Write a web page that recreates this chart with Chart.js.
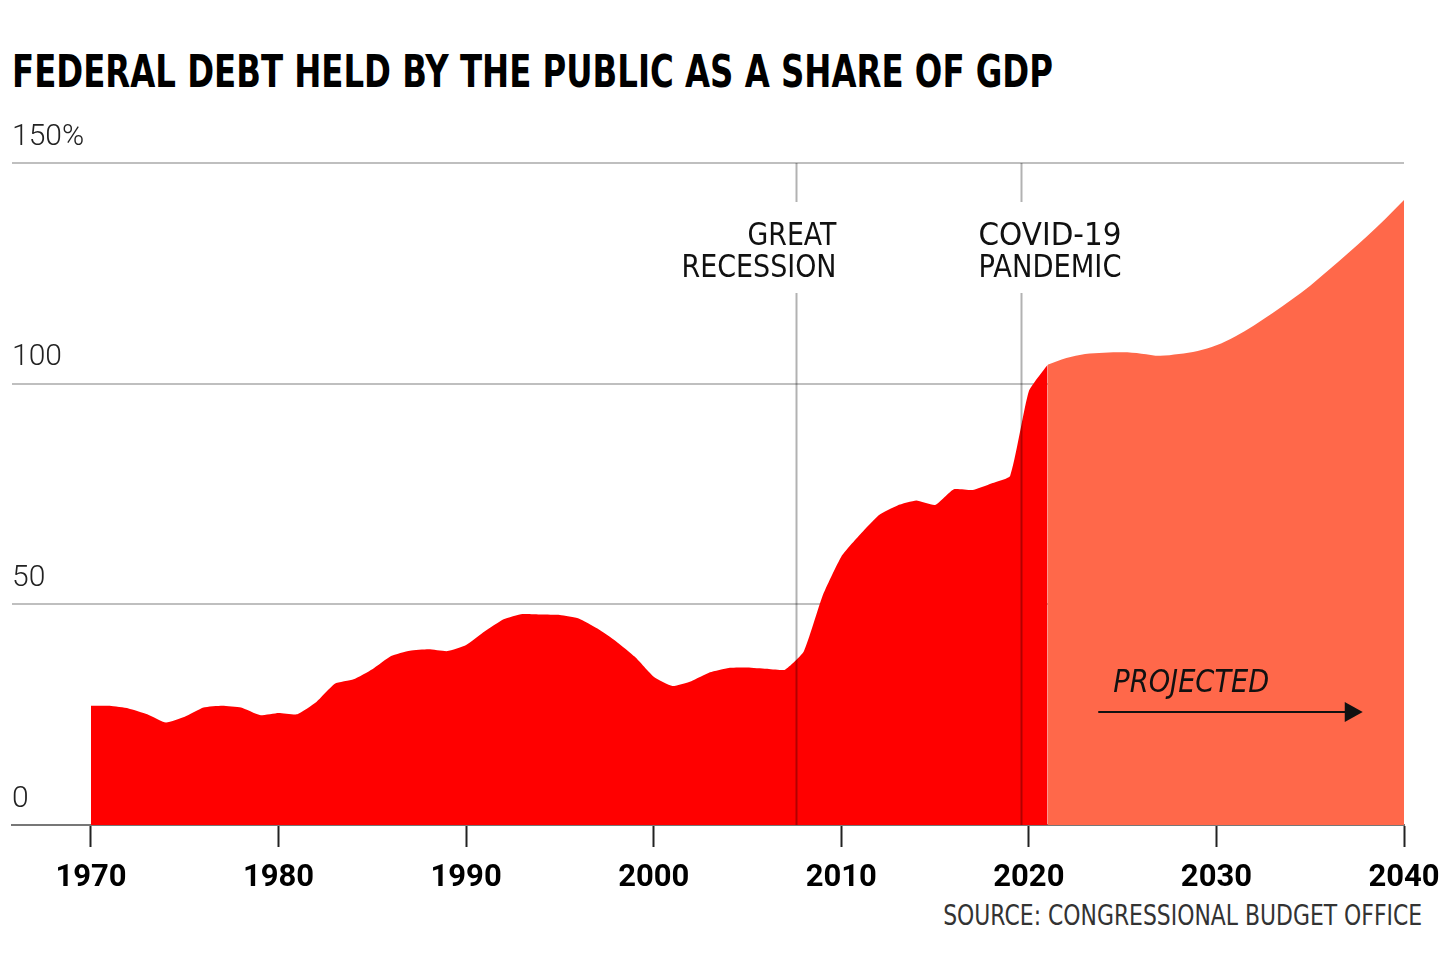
<!DOCTYPE html>
<html>
<head>
<meta charset="utf-8">
<script src="https://cdn.jsdelivr.net/npm/chart.js@4/dist/chart.umd.min.js"></script>
<style>
  body { margin: 0; background: #fff; width: 1440px; height: 968px; overflow: hidden; position: relative; }
  .cond { font-family: "DejaVu Sans", sans-serif; }
  #title { position: absolute; left: 12px; top: 46px; margin: 0; font-size: 44px; font-weight: bold; color: #000; white-space: nowrap; transform-origin: left top; }
  #source { position: absolute; right: 18px; top: 899px; font-size: 28px; color: #333; white-space: nowrap; }
  #wrap { position: absolute; left: 0; top: 0; width: 1440px; height: 968px; }
</style>
</head>
<body>
<h1 id="title" class="cond">FEDERAL DEBT HELD BY THE PUBLIC AS A SHARE OF GDP</h1>
<div id="source" class="cond">SOURCE: CONGRESSIONAL BUDGET OFFICE</div>
<div id="wrap"><canvas id="debtChart"></canvas></div>
<script>
// actual debt, % of GDP
var actualYears = [1970, 1971, 1972, 1973, 1974, 1975, 1976, 1977, 1978, 1979,
  1980, 1981, 1982, 1983, 1984, 1985, 1986, 1987, 1988, 1989,
  1990, 1991, 1992, 1993, 1994, 1995, 1996, 1997, 1998, 1999,
  2000, 2001, 2002, 2003, 2004, 2005, 2006, 2007, 2008, 2009,
  2010, 2011, 2012, 2013, 2014, 2015, 2016, 2017, 2018, 2019,
  2020, 2021];
var actualDebt = [27.0, 27.0, 26.4, 25.1, 23.2, 24.5, 26.6, 27.0, 26.6, 24.9,
  25.4, 25.1, 27.8, 32.0, 33.0, 35.3, 38.3, 39.5, 39.8, 39.4,
  40.8, 43.9, 46.6, 47.8, 47.7, 47.6, 46.8, 44.5, 41.6, 38.1,
  33.6, 31.5, 32.6, 34.6, 35.6, 35.7, 35.4, 35.2, 39.3, 51.9,
  60.8, 65.8, 70.2, 72.4, 73.5, 72.5, 76.1, 75.9, 77.4, 79.1,
  98.3, 104.3];

// projected debt
var projYears = [2021, 2022, 2023, 2024, 2025, 2026, 2027, 2028, 2029, 2030,
  2031, 2032, 2033, 2034, 2035, 2036, 2037, 2038, 2039, 2040];
var projDebt = [104.3, 105.8, 106.7, 107.0, 107.1, 106.8, 106.3, 106.7, 107.4, 108.7,
  110.7, 113.2, 116.0, 119.0, 122.2, 125.8, 129.5, 133.3, 137.3, 141.6];

var xTicks = [1970, 1980, 1990, 2000, 2010, 2020, 2030, 2040];
var yTicks = [0, 50, 100, 150];

var eventYears = [2007.6, 2019.6];
var eventLabels = [['GREAT', 'RECESSION'], ['COVID-19', 'PANDEMIC']];

var fam = '"DejaVu Sans", sans-serif';

function toPoints(xs, ys) {
  return xs.map(function (x, i) { return { x: x, y: ys[i] }; });
}

// squeeze the title and source to the width they have in print
var title = document.getElementById('title');
var tw = title.getBoundingClientRect().width;
title.style.transform = 'scaleX(' + (1041 / tw) + ')';
var src = document.getElementById('source');
var sw = src.getBoundingClientRect().width;
src.style.transformOrigin = 'right top';
src.style.transform = 'scaleX(' + (479 / sw) + ')';

// draws text squeezed horizontally so it fits the given width
function squeezeText(ctx, text, x, y, width, align) {
  var w = ctx.measureText(text).width;
  var k = Math.min(1, width / w);
  ctx.save();
  ctx.translate(x, y);
  ctx.scale(k, 1);
  ctx.textAlign = align;
  ctx.fillText(text, 0, 0);
  ctx.restore();
}

// event lines, labels and the projected arrow
var notes = {
  id: 'notes',
  afterDatasetsDraw: function (chart) {
    var ctx = chart.ctx;
    var xs = chart.scales.x, ys = chart.scales.y;
    var top = chart.chartArea.top, bottom = chart.chartArea.bottom;
    var labelWidths = [[89, 155], [143, 143]];
    ctx.save();
    eventYears.forEach(function (yr, i) {
      var px = Math.round(xs.getPixelForValue(yr)) + 0.5;
      ctx.strokeStyle = 'rgba(0,0,0,0.3)';
      ctx.lineWidth = 2;
      ctx.beginPath();
      ctx.moveTo(px, top);
      ctx.lineTo(px, top + 39);
      ctx.moveTo(px, top + 130);
      ctx.lineTo(px, bottom);
      ctx.stroke();

      ctx.fillStyle = '#111';
      ctx.font = '32px ' + fam;
      ctx.textBaseline = 'middle';
      var tx = i === 0 ? px + 40 : px - 43;
      eventLabels[i].forEach(function (line, j) {
        squeezeText(ctx, line, tx, top + 74 + j * 32, labelWidths[i][j], i === 0 ? 'right' : 'left');
      });
    });

    // projected
    ctx.fillStyle = '#111';
    ctx.font = 'italic 32px ' + fam;
    ctx.textBaseline = 'middle';
    squeezeText(ctx, 'PROJECTED', xs.getPixelForValue(2024.5), ys.getPixelForValue(32.0), 156, 'left');

    var ay = ys.getPixelForValue(25.6);
    var ax0 = xs.getPixelForValue(2023.7), ax1 = xs.getPixelForValue(2037.8);
    ctx.strokeStyle = '#111';
    ctx.lineWidth = 2;
    ctx.beginPath();
    ctx.moveTo(ax0, ay);
    ctx.lineTo(ax1 - 16, ay);
    ctx.stroke();
    ctx.beginPath();
    ctx.moveTo(ax1, ay);
    ctx.lineTo(ax1 - 18, ay - 10);
    ctx.lineTo(ax1 - 18, ay + 10);
    ctx.closePath();
    ctx.fill();
    ctx.restore();
  }
};

var debtChart = document.getElementById('debtChart').getContext('2d');
var chart = new Chart(debtChart, {
  type: 'line',
  data: {
    datasets: [{
      label: 'Actual',
      data: toPoints(actualYears, actualDebt),
      backgroundColor: 'rgb(255, 0, 0)',
      borderWidth: 0,
      pointRadius: 0,
      fill: 'origin',
      tension: 0.15
    }, {
      label: 'Projected',
      data: toPoints(projYears, projDebt),
      backgroundColor: 'rgb(255, 104, 74)',
      borderWidth: 0,
      pointRadius: 0,
      fill: 'origin',
      cubicInterpolationMode: 'monotone'
    }]
  },
  options: {
    responsive: true,
    maintainAspectRatio: false,
    animation: false,
    layout: { padding: { left: 12, right: 36, top: 163, bottom: 63 } },
    plugins: { legend: { display: false }, tooltip: { enabled: false } },
    scales: {
      x: {
        type: 'linear',
        min: 1965.79,
        max: 2040,
        z: 1,
        afterBuildTicks: function (axis) { axis.ticks = xTicks.map(function (v) { return { value: v }; }); },
        afterFit: function (axis) { axis.height = 80; axis.paddingRight = 0; },
        grid: { drawOnChartArea: false, drawTicks: true, tickLength: 22, tickColor: '#222', tickWidth: 2 },
        border: { display: true, color: '#777', width: 2 },
        ticks: {
          autoSkip: false,
          maxRotation: 0,
          padding: 13,
          color: '#000',
          font: { family: 'Roboto', size: 31, weight: 'bold' },
          callback: function (v) { return String(v); }
        }
      },
      y: {
        min: 0,
        max: 150,
        z: 1,
        afterBuildTicks: function (axis) { axis.ticks = yTicks.map(function (v) { return { value: v }; }); },
        afterFit: function (axis) { axis.width = 0; },
        grid: { color: 'rgba(0,0,0,0.25)', lineWidth: 2, drawTicks: false },
        border: { display: false },
        ticks: {
          mirror: true,
          padding: 0,
          labelOffset: -26,
          color: '#222',
          font: { family: 'Roboto', size: 30, weight: 300 },
          callback: function (v) { return v === 150 ? '150%' : String(v); }
        }
      }
    }
  },
  plugins: [notes]
});
</script>
</body>
</html>
